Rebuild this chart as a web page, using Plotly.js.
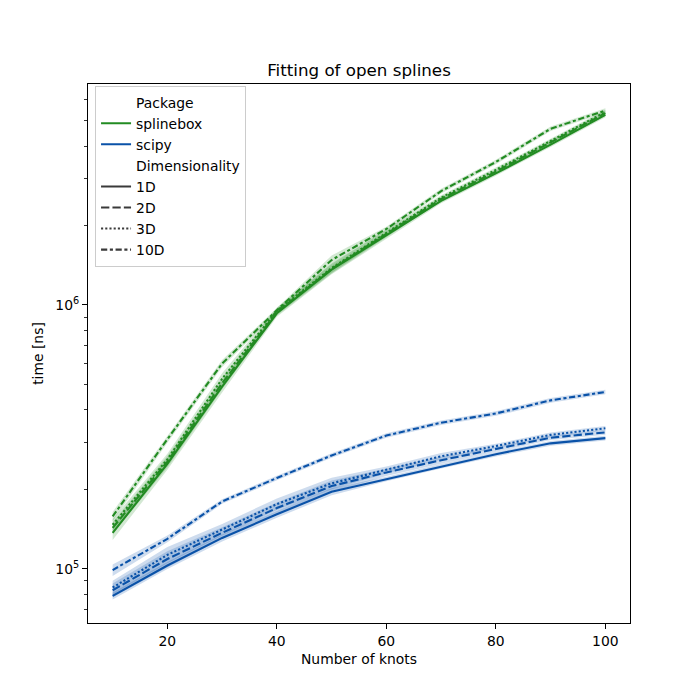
<!DOCTYPE html>
<html>
<head>
<meta charset="utf-8">
<script src="https://cdn.plot.ly/plotly-3.0.1.min.js"></script>
<style>html,body{margin:0;padding:0;background:#fff;}#chart{width:700px;height:700px;}</style>
</head>
<body>
<div id="chart"></div>
<script>
// Number of knots
const knots = [10, 20, 30, 40, 50, 60, 70, 80, 90, 100];

// splinebox timings [ns]
const splinebox1D  = [137000, 250000, 490000, 930000, 1360000, 1840000, 2480000, 3150000, 4050000, 5250000];
const splinebox2D  = [143000, 255000, 505000, 940000, 1370000, 1860000, 2520000, 3200000, 4120000, 5330000];
const splinebox3D  = [147000, 260000, 525000, 950000, 1380000, 1880000, 2550000, 3250000, 4180000, 5380000];
const splinebox10D = [158000, 310000, 600000, 955000, 1480000, 1940000, 2700000, 3480000, 4650000, 5450000];

// scipy timings [ns]
const scipy1D  = [79000, 103000, 131000, 161000, 196000, 219000, 245000, 272000, 299000, 313000];
const scipy2D  = [83000, 109000, 137000, 170000, 206000, 232000, 258000, 284000, 314000, 329000];
const scipy3D  = [85000, 113000, 141000, 176000, 211000, 237000, 267000, 292000, 322000, 341000];
const scipy10D = [99000, 130000, 180000, 221000, 269000, 320000, 358000, 388000, 435000, 468000];

// relative half-width of confidence bands
const errSplinebox1D  = [0.06, 0.05, 0.05, 0.03, 0.04, 0.03, 0.02, 0.02, 0.02, 0.02];
const errSplinebox2D  = [0.05, 0.05, 0.05, 0.03, 0.04, 0.03, 0.02, 0.02, 0.02, 0.02];
const errSplinebox3D  = [0.05, 0.05, 0.05, 0.03, 0.04, 0.03, 0.02, 0.02, 0.02, 0.02];
const errSplinebox10D = [0.04, 0.03, 0.03, 0.02, 0.04, 0.02, 0.02, 0.02, 0.02, 0.02];
const errScipy1D  = [0.03, 0.03, 0.03, 0.03, 0.03, 0.02, 0.02, 0.02, 0.02, 0.02];
const errScipy2D  = [0.06, 0.07, 0.05, 0.05, 0.05, 0.03, 0.03, 0.02, 0.02, 0.02];
const errScipy3D  = [0.06, 0.07, 0.05, 0.05, 0.05, 0.03, 0.03, 0.02, 0.02, 0.02];
const errScipy10D = [0.05, 0.03, 0.02, 0.02, 0.02, 0.02, 0.02, 0.02, 0.02, 0.02];

const packages = ['splinebox', 'scipy'];
const dims = ['1D', '2D', '3D', '10D'];
const colors = {splinebox: '#228B22', scipy: '#0A52A8'};
const bandColors = {splinebox: 'rgba(34,139,34,0.2)', scipy: 'rgba(10,82,168,0.2)'};
const dashes = {'1D': 'solid', '2D': '8.3px,3.1px', '3D': '2.1px,2.1px', '10D': '6.2px,2.6px,3.1px,2.6px'};

const series = {
  splinebox: {'1D': [splinebox1D, errSplinebox1D], '2D': [splinebox2D, errSplinebox2D], '3D': [splinebox3D, errSplinebox3D], '10D': [splinebox10D, errSplinebox10D]},
  scipy: {'1D': [scipy1D, errScipy1D], '2D': [scipy2D, errScipy2D], '3D': [scipy3D, errScipy3D], '10D': [scipy10D, errScipy10D]}
};

const traces = [];
// confidence bands first
packages.forEach(p => {
  dims.forEach(d => {
    const [v, e] = series[p][d];
    const lo = v.map((y, i) => y * (1 - e[i]));
    const hi = v.map((y, i) => y * (1 + e[i]));
    traces.push({x: knots, y: lo, mode: 'lines', line: {width: 0}, showlegend: false, hoverinfo: 'skip'});
    traces.push({x: knots, y: hi, mode: 'lines', line: {width: 0}, fill: 'tonexty', fillcolor: bandColors[p], showlegend: false, hoverinfo: 'skip'});
  });
});
// lines
packages.forEach(p => {
  dims.forEach(d => {
    const [v] = series[p][d];
    traces.push({x: knots, y: v, mode: 'lines', line: {color: colors[p], width: 2.1, dash: dashes[d]}, showlegend: false, name: p + ' ' + d});
  });
});
// legend entries
const legendRows = [
  ['Package', 'rgba(0,0,0,0)', 'solid'],
  ['splinebox', colors.splinebox, 'solid'],
  ['scipy', colors.scipy, 'solid'],
  ['Dimensionality', 'rgba(0,0,0,0)', 'solid'],
  ['1D', '#3a3a3a', dashes['1D']],
  ['2D', '#3a3a3a', dashes['2D']],
  ['3D', '#3a3a3a', dashes['3D']],
  ['10D', '#3a3a3a', dashes['10D']]
];
legendRows.forEach((r, i) => {
  traces.push({x: [null], y: [null], mode: 'lines', name: r[0], line: {color: r[1], width: 2.1, dash: r[2]}, showlegend: true, legendrank: i + 1});
});

const minorVals = [];
[1e4, 1e5, 1e6].forEach(b => { for (let k = 2; k <= 9; k++) minorVals.push(k * b); });

const font = {family: 'DejaVu Sans, sans-serif', size: 13.9, color: '#000'};
const layout = {
  width: 700, height: 700,
  paper_bgcolor: '#fff', plot_bgcolor: '#fff',
  margin: {l: 88, r: 70, t: 84, b: 77},
  font: font,
  title: {text: 'Fitting of open splines', font: {family: 'DejaVu Sans, sans-serif', size: 16.7, color: '#000'}, x: 0.5, xref: 'paper', xanchor: 'center', y: 1 - 70/700, yanchor: 'middle'},
  showlegend: true,
  legend: {x: 0.013, y: 0.997, xanchor: 'left', yanchor: 'top', bgcolor: 'rgba(255,255,255,0.85)', bordercolor: '#cccccc', borderwidth: 1, font: font, traceorder: 'normal'},
  xaxis: {
    range: [5.5, 104.5], tickvals: [20, 40, 60, 80, 100], ticks: 'outside', ticklen: 5, tickwidth: 1, tickcolor: '#000',
    showline: true, mirror: true, linecolor: '#000', linewidth: 1, showgrid: false, zeroline: false,
    title: {text: 'Number of knots', font: font, standoff: 6}, tickfont: font
  },
  yaxis: {
    type: 'log', range: [4.795, 6.837], tickvals: [1e5, 1e6], ticktext: ['10<sup>5</sup>', '10<sup>6</sup>'],
    ticks: 'outside', ticklen: 5, tickwidth: 1, tickcolor: '#000',
    minor: {tickvals: minorVals, ticks: 'outside', ticklen: 3, tickwidth: 0.8, tickcolor: '#000', showgrid: false},
    showline: true, mirror: true, linecolor: '#000', linewidth: 1, showgrid: false, zeroline: false,
    title: {text: 'time [ns]', font: font, standoff: 8}, tickfont: font
  }
};

Plotly.newPlot('chart', traces, layout, {displayModeBar: false, staticPlot: true});
</script>
</body>
</html>
